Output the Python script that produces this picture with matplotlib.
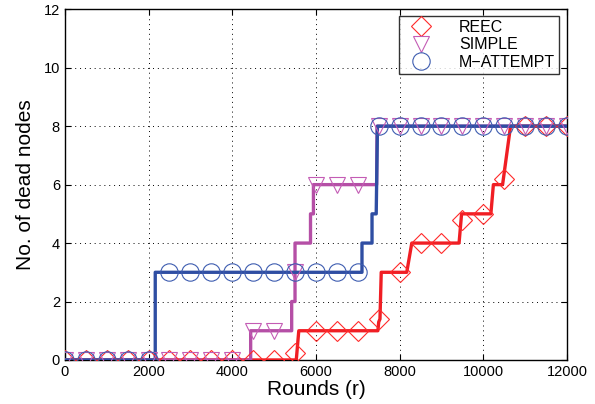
import numpy as np
import matplotlib
matplotlib.use("Agg")
import matplotlib.pyplot as plt

plt.rcParams['font.family'] = ['Liberation Sans', 'DejaVu Sans']

# step curves (vertices of each path)
reec_x = [0, 5530, 5590, 7480, 7500, 7530, 7560, 8170, 8290, 9420, 9480, 10180, 10240, 10460, 10650, 12000]
reec_y = [0, 0, 1, 1, 1.3, 1.4, 3, 3, 4, 4, 5, 5, 6, 6, 8, 8]

simple_x = [0, 4440, 4440, 5420, 5420, 5500, 5500, 5870, 5870, 5940, 5940, 7450, 7460, 12000]
simple_y = [0, 0, 1, 1, 2, 2, 4, 4, 5, 5, 6, 6, 8, 8]

matt_x = [0, 2160, 2160, 7100, 7100, 7340, 7340, 7440, 7470, 12000]
matt_y = [0, 0, 3, 3, 4, 4, 5, 5, 8, 8]

# marker samples every 500 rounds
mark_x = np.arange(0, 12001, 500)
reec_m = [0, 0, 0, 0, 0, 0, 0, 0, 0, 0, 0, 0.25, 1, 1, 1, 1.4, 3, 4, 4, 4.8, 5, 6.2, 8, 8, 8]
simple_m = [0, 0, 0, 0, 0, 0, 0, 0, 0, 1, 1, 3, 6, 6, 6, 8, 8, 8, 8, 8, 8, 8, 8, 8, 8]
matt_m = [0, 0, 0, 0, 0, 3, 3, 3, 3, 3, 3, 3, 3, 3, 3, 8, 8, 8, 8, 8, 8, 8, 8, 8, 8]

c_red = '#f01e24'
c_mag = '#b54fa6'
c_blue = '#2f4ea3'

fig = plt.figure(figsize=(5.95, 4.04), dpi=100)
ax = fig.add_axes([0.109, 0.109, 0.844, 0.868])

ax.plot(reec_x, reec_y, color=c_red, lw=2.4, zorder=3)
ax.plot(simple_x, simple_y, color=c_mag, lw=2.4, zorder=3)
ax.plot(matt_x, matt_y, color=c_blue, lw=2.4, zorder=4)

ax.plot(mark_x, reec_m, 'D', ms=10.5, mfc='none', mec='#ff2a2a', mew=0.8, ls='none', label='REEC', zorder=5)
ax.plot(mark_x, simple_m, 'v', ms=11.5, mfc='none', mec='#c45cb5', mew=0.8, ls='none', label='SIMPLE', zorder=5)
ax.plot(mark_x, matt_m, 'o', ms=12.5, mfc='none', mec='#3d5cb0', mew=0.8, ls='none', label='M\u2212ATTEMPT', zorder=5)

ax.set_xlim(0, 12000)
ax.set_ylim(0, 12)
ax.set_xticks(range(0, 12001, 2000))
ax.set_yticks(range(0, 13, 2))
ax.tick_params(direction='in', top=True, right=True, labelsize=10.5, length=4)
ax.grid(True, ls=(0, (1, 4)), color='black', lw=0.7)
for s in ax.spines.values():
    s.set_linewidth(1.0)

ax.set_xlabel('Rounds (r)', fontsize=15, labelpad=1)
ax.set_ylabel('No. of dead nodes', fontsize=15, labelpad=6)

leg = ax.legend(loc='upper right', fontsize=11.5, frameon=True, fancybox=False,
                handletextpad=1.3, borderpad=0.25, labelspacing=0.15, handlelength=2.2,
                borderaxespad=0, bbox_to_anchor=(0.984, 0.981))
leg.get_frame().set_edgecolor('black')
leg.get_frame().set_linewidth(1.0)

fig.savefig('out.png', dpi=100)
